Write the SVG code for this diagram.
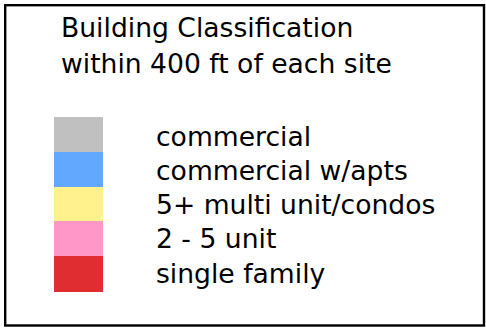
<svg xmlns="http://www.w3.org/2000/svg" width="486" height="328" viewBox="0 0 486 328">
<style>
text{font-family:"DejaVu Sans",Verdana,sans-serif;font-size:26.6px;fill:#000}
.sw{stroke:none}
</style>
<rect x="0" y="0" width="486" height="328" fill="#fff"/>
<rect id="frame" x="5.2" y="5.2" width="478.8" height="320.3" fill="#fff" stroke="#000" stroke-width="2.4"/>
<g id="title">
<text x="61" y="37">Building Classification</text>
<text x="61" y="73">within 400 ft of each site</text>
</g>
<g id="swatches">
<rect id="sw-commercial" class="sw" x="54" y="117" width="49" height="35" fill="#c0c0c0"/>
<rect id="sw-commercial-apts" class="sw" x="54" y="152" width="49" height="35" fill="#62a8ff"/>
<rect id="sw-multi" class="sw" x="54" y="187" width="49" height="34" fill="#fff28c"/>
<rect id="sw-2-5" class="sw" x="54" y="221" width="49" height="35" fill="#ff97c8"/>
<rect id="sw-single" class="sw" x="54" y="256" width="49" height="36" fill="#e02d32"/>
</g>
<g id="labels">
<text x="156" y="146">commercial</text>
<text x="156" y="180">commercial w/apts</text>
<text x="156" y="214">5+ multi unit/condos</text>
<text x="156" y="248">2 - 5 unit</text>
<text x="156" y="283">single family</text>
</g>
</svg>
